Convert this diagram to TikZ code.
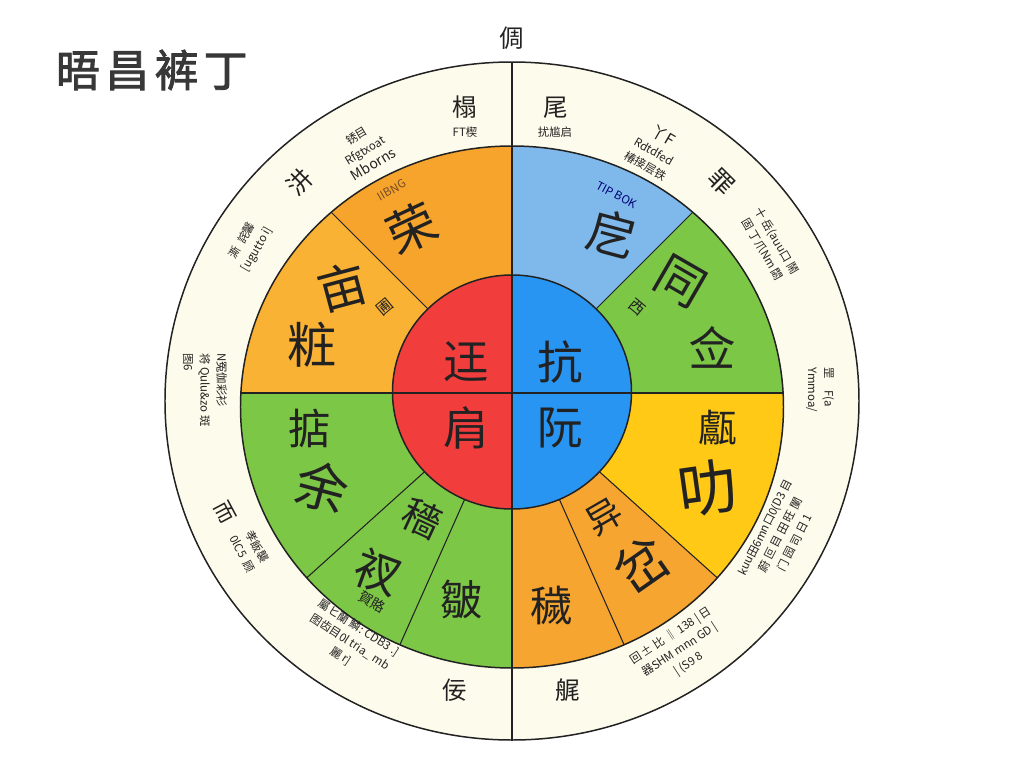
\documentclass[tikz,border=0pt]{standalone}
\usepackage{fontspec}
\newfontfamily\cjk{Noto Sans CJK SC}
\newfontfamily\cjkb[FakeBold=2]{Noto Sans CJK SC}
\definecolor{ink}{HTML}{222222}
\definecolor{cream}{HTML}{FDFBEB}
\definecolor{orangetop}{HTML}{F6A42C}
\definecolor{orangeleft}{HTML}{F9B234}
\definecolor{orangelow}{HTML}{F7A531}
\definecolor{bluelight}{HTML}{7FB9EC}
\definecolor{blueinner}{HTML}{2995F2}
\definecolor{greenc}{HTML}{7DC747}
\definecolor{yellowc}{HTML}{FFC916}
\definecolor{redc}{HTML}{F23D3D}
\tikzset{
  big/.style={font=\cjk\fontsize{#1}{#1}\selectfont,text=ink,inner sep=0pt},
  big/.default=26,
  mid/.style={font=\cjk\fontsize{14}{14}\selectfont,text=ink,inner sep=0pt},
  tiny/.style={font=\cjk\fontsize{6.5}{9.5}\selectfont,text=ink,align=center,inner sep=0pt},
  rim/.style={ink,line width=0.85pt},
  divider/.style={ink,line width=0.6pt}
}
\begin{document}
\begin{tikzpicture}[x=0.02cm,y=0.02cm]
\useasboundingbox (-512,-375) rectangle (512,393);
% outer ring
\draw[rim,fill=cream] (0,-8) ellipse [x radius=347,y radius=339];
% coloured ring
\begin{scope}
  \clip (0,-14) ellipse [x radius=271.5,y radius=261];
  \fill[orangetop] (0,0) -- (90:400) -- (135:400) -- cycle;
  \fill[orangeleft] (0,0) -- (135:400) -- (180:400) -- cycle;
  \fill[bluelight] (0,0) -- (45:400) -- (90:400) -- cycle;
  \fill[greenc] (0,0) -- (0:400) -- (45:400) -- cycle;
  \fill[yellowc] (0,0) -- (0:400) -- (-42:400) -- cycle;
  \fill[orangelow] (0,0) -- (-42:400) -- (-66:400) -- cycle;
  \fill[orangelow] (0,0) -- (-66:400) -- (-90:400) -- cycle;
  \fill[greenc] (0,0) -- (-90:400) -- (-114:400) -- cycle;
  \fill[greenc] (0,0) -- (-114:400) -- (-138:400) -- cycle;
  \fill[greenc] (0,0) -- (-138:400) -- (-180:400) -- cycle;
  \foreach \a in {135,45,-42,-66,-114,-138}
    \draw[divider] (0,0) -- (\a:400);
  \draw[divider] (-280,0) -- (280,0);
\end{scope}
\draw[rim] (0,-14) ellipse [x radius=271.5,y radius=261];
% centre
\fill[redc] (0,1) -- (0,118) arc[start angle=90,end angle=270,x radius=119.5,y radius=117] -- cycle;
\fill[blueinner] (0,1) -- (0,-116) arc[start angle=-90,end angle=90,x radius=119.5,y radius=117] -- cycle;
\draw[rim] (0,1) ellipse [x radius=119.5,y radius=117];
\draw[divider] (-119.5,0) -- (119.5,0);
\draw[divider] (0,331) -- (0,-347);

% title and top label
\node[anchor=west,font=\cjkb\fontsize{25}{25}\selectfont,text=ink!90] (title) at (-462,323) {晤\hspace{3pt}昌\hspace{3pt}裤\hspace{3pt}丁};
\node[mid] (topmark) at (0,355) {倜};

% outer ring labels
\node[mid] (rimn1) at (-47,286) {榻};
\node[tiny] (rimn1s) at (-47,261) {FT楔};
\node[mid] (rimn2) at (44,285) {尾};
\node[tiny] (rimn2s) at (43,261) {扰尴启};
\node[tiny,rotate=31] (rimnw1) at (-147,243) {锈目\\Rfgtxoat\\{\fontsize{8}{9}\selectfont Mborns}};
\node[mid,rotate=45] (rimnw2) at (-212,211) {汫};
\node[tiny,rotate=60] (rimnw3) at (-262,148) {澌\enspace 詫馨\\{[}ugutto i{]}};
\node[tiny,rotate=-90,align=left] (rimw) at (-307,3) {N冤伽彩衫\\将 Qulu\&zo 斑\\图6};
\node[mid,rotate=-62,font=\cjk\fontsize{12}{12}\selectfont] (rimsw1) at (-287,-119) {而};
\node[tiny,rotate=-62] (rimsw2) at (-262,-157) {孝飯襲\\0lC5\enspace 顾};
\node[tiny,rotate=-33] (rimsw3) at (-162,-249) {屬ヒ蘭 鱗: CDB3 .]\\图齿目0l tria\_ mb\\麗 r]};
\node[mid] (rims1) at (-57,-297) {佞};
\node[mid] (rims2) at (56,-297) {艉};
\node[tiny,rotate=33] (rimse1) at (168,-257) {回 ± 比 ‖ 138 | 日\\器SHM mnn GD |\\| (S9 8};
\node[tiny,rotate=63] (rimse2) at (268,-142) {kuu田6mn口0(D3 目\\蔚 叵 目 田 旺 闌\\门 园 司 日 1};
\node[tiny,rotate=-90,align=left] (rime) at (308,3) {罡\quad F(a\\Ymmoa/};
\node[tiny,rotate=-60] (rimne3) at (258,148) {十 岳(auu口 鬧\\固 丁爪Nm 閟};
\node[mid,rotate=-45] (rimne2) at (210,211) {罪};
\node[tiny,rotate=-30] (rimne1) at (143,243) {{\fontsize{9}{9}\selectfont 丫F}\\Rdtdfed\\椿接层铁};

% coloured ring labels
\node[tiny,rotate=30,text=brown!60!black] (tagnw) at (-120,203) {IIBNG};
\node[big=28,rotate=25] (secnw) at (-100,165) {荣};
\node[tiny,rotate=-28,text=blue!45!black] (tagne) at (105,198) {TIP BOK};
\node[big=28,rotate=-15] (secne) at (100,160) {戹};
\node[big=28,rotate=15] (secw1) at (-170,106) {亩};
\node[big=28] (secw2) at (-200,48) {粧};
\node[big=9,rotate=40] (secws) at (-127,86) {圃};
\node[big=28,rotate=-30] (sece1) at (168,111) {同};
\node[big=27] (sece2) at (200,46) {佥};
\node[big=9,rotate=-40] (seces) at (125,86) {西};
\node[big=22] (secy1) at (206,-35) {甗};
\node[big=34,rotate=8] (secy2) at (196,-95) {叻};
\node[big=20,rotate=30] (seco1) at (92,-124) {异};
\node[big=30,rotate=35] (seco2) at (130,-172) {岔};
\node[big=24] (seco3) at (40,-212) {穢};
\node[big=24] (secg1) at (-202,-35) {掂};
\node[big=30,rotate=-15] (secg2) at (-190,-94) {余};
\node[big=22,rotate=-25] (secg3) at (-90,-125) {穡};
\node[big=26,rotate=-20] (secg4) at (-134,-179) {衩};
\node[big=8,rotate=-30] (secgs) at (-140,-209) {賀賂};
\node[big=24] (secg5) at (-50,-207) {皺};

% centre labels
\node[big=26] (core1) at (-46,31) {迋};
\node[big=26] (core2) at (-46,-35) {肩};
\node[big=26] (core3) at (48,31) {抗};
\node[big=26] (core4) at (48,-35) {阮};
\end{tikzpicture}
\end{document}
